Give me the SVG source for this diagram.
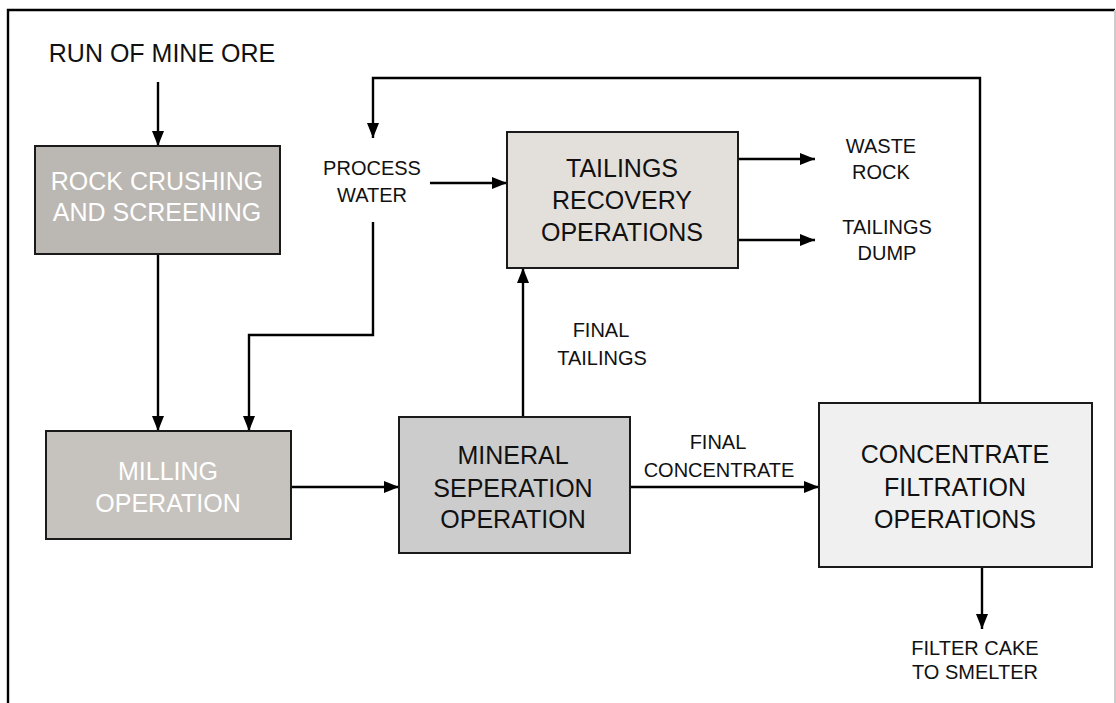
<svg xmlns="http://www.w3.org/2000/svg" width="1116" height="703" viewBox="0 0 1116 703">
<defs>
<marker id="ah" markerWidth="15" markerHeight="12" refX="15" refY="6" orient="auto" markerUnits="userSpaceOnUse">
<path d="M0,0 L15,6 L0,12 Z" fill="#000"/>
</marker>
<style>
.box{stroke:#1a1a1a;stroke-width:2}
.ln{fill:none;stroke:#000;stroke-width:2.4}
.arr{fill:none;stroke:#000;stroke-width:2.4;marker-end:url(#ah)}
.t{font-family:"Liberation Sans",Arial,sans-serif;text-anchor:middle}
.big{font-size:25px}
.sm{font-size:20px}
.w{fill:#ffffff}
.k{fill:#111111}
</style>
</defs>
<rect width="1116" height="703" fill="#ffffff"/>
<g id="frame">
<path d="M8,703 L8,10 L1115,10" fill="none" stroke="#000" stroke-width="2.4"/>
<line x1="1115" y1="10" x2="1115" y2="703" stroke="#cccccc" stroke-width="2"/>
</g>
<g id="connectors">
<line class="arr" x1="158" y1="82" x2="158" y2="146"/>
<polyline class="arr" points="980,403 980,78 373,78 373,138"/>
<line class="arr" x1="430" y1="183" x2="507" y2="183"/>
<polyline class="arr" points="373,222 373,335 249,335 249,431"/>
<line class="arr" x1="158" y1="254" x2="158" y2="431"/>
<line class="arr" x1="291" y1="487" x2="399" y2="487"/>
<line class="arr" x1="523" y1="417" x2="523" y2="268"/>
<line class="arr" x1="630" y1="487" x2="819" y2="487"/>
<line class="arr" x1="738" y1="159" x2="815" y2="159"/>
<line class="arr" x1="738" y1="240" x2="815" y2="240"/>
<line class="arr" x1="982" y1="567" x2="982" y2="629"/>
</g>
<g id="run-of-mine-ore"><text class="t k" x="162" y="62" font-size="25">RUN OF MINE ORE</text></g>
<g id="rock-crushing">
<rect class="box" x="35" y="146" width="245" height="108" fill="#bbb7b3"/>
<text class="t big w" x="157" y="190">ROCK CRUSHING</text>
<text class="t big w" x="157" y="221">AND SCREENING</text>
</g>
<g id="process-water">
<text class="t sm k" x="372" y="175">PROCESS</text>
<text class="t sm k" x="372" y="202">WATER</text>
</g>
<g id="tailings-recovery">
<rect class="box" x="507" y="132" width="231" height="136" fill="#e3e0dc"/>
<text class="t big k" x="622" y="177">TAILINGS</text>
<text class="t big k" x="622" y="209">RECOVERY</text>
<text class="t big k" x="622" y="241">OPERATIONS</text>
</g>
<g id="waste-rock">
<text class="t sm k" x="881" y="153">WASTE</text>
<text class="t sm k" x="881" y="179">ROCK</text>
</g>
<g id="tailings-dump">
<text class="t sm k" x="887" y="234">TAILINGS</text>
<text class="t sm k" x="887" y="260">DUMP</text>
</g>
<g id="final-tailings">
<text class="t sm k" x="601" y="337">FINAL</text>
<text class="t sm k" x="602" y="365">TAILINGS</text>
</g>
<g id="milling">
<rect class="box" x="46" y="431" width="245" height="108" fill="#c6c2be"/>
<text class="t big w" x="168" y="480">MILLING</text>
<text class="t big w" x="168" y="512">OPERATION</text>
</g>
<g id="mineral-separation">
<rect class="box" x="399" y="417" width="231" height="136" fill="#cccccc"/>
<text class="t big k" x="513" y="464">MINERAL</text>
<text class="t big k" x="513" y="497">SEPERATION</text>
<text class="t big k" x="513" y="528">OPERATION</text>
</g>
<g id="final-concentrate">
<text class="t sm k" x="718" y="449">FINAL</text>
<text class="t sm k" x="719" y="477">CONCENTRATE</text>
</g>
<g id="concentrate-filtration">
<rect class="box" x="819" y="403" width="273" height="164" fill="#f0f0f0"/>
<text class="t big k" x="955" y="463">CONCENTRATE</text>
<text class="t big k" x="955" y="496">FILTRATION</text>
<text class="t big k" x="955" y="528">OPERATIONS</text>
</g>
<g id="filter-cake">
<text class="t sm k" x="975" y="655">FILTER CAKE</text>
<text class="t sm k" x="975" y="679">TO SMELTER</text>
</g>
</svg>
